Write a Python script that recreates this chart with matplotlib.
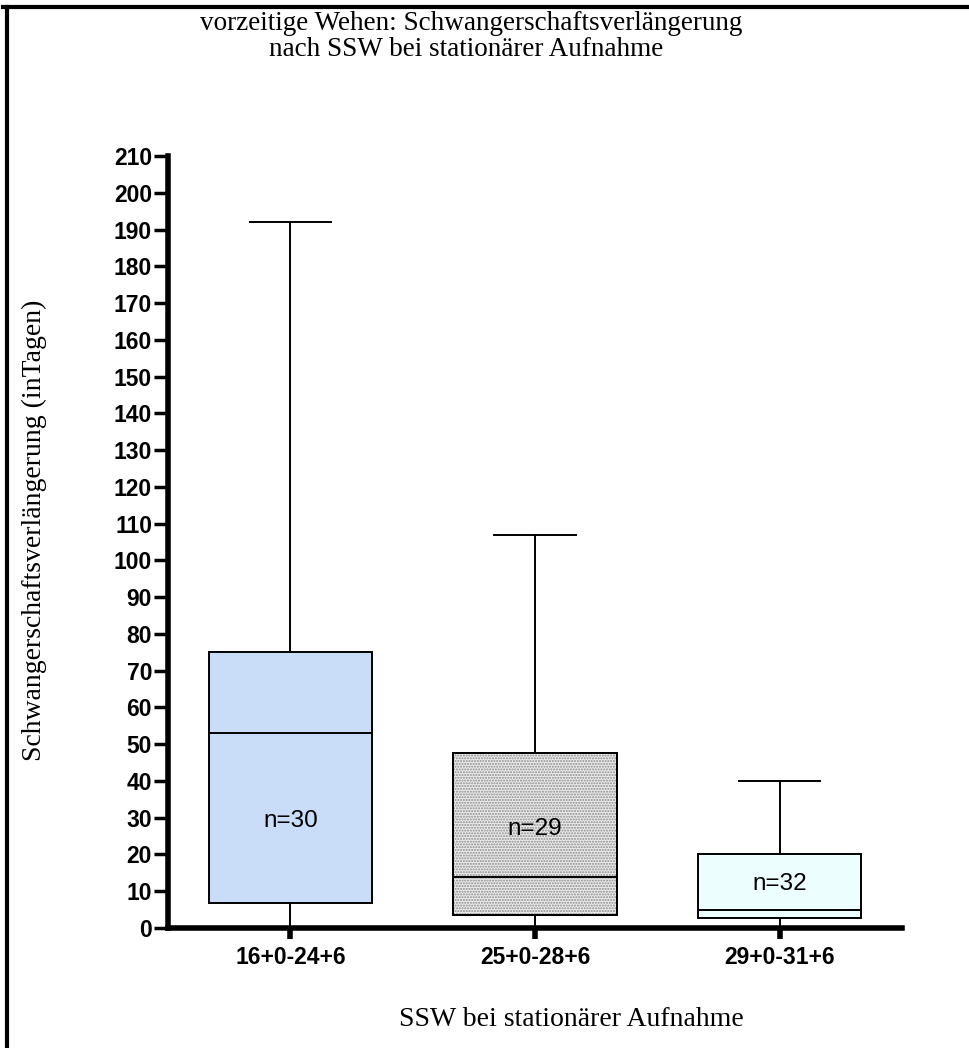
import matplotlib.pyplot as plt
from matplotlib.patches import PathPatch
from matplotlib.lines import Line2D

# Gruppen (SSW bei Aufnahme) und Kennwerte der Boxen, in Tagen
groups = ['16+0-24+6', '25+0-28+6', '29+0-31+6']
n_values = [30, 29, 32]
q1 = [6.7, 3.5, 2.6]
median = [53, 14, 5]
q3 = [75, 47.5, 20]
whisker_low = [0, 0, 0]
whisker_high = [192, 107, 40]
label_y = [29, 27, 12]

box_colors = ['#c9ddf9', '#ececec', '#ecfefe']

serif = 'Liberation Serif'
sans = 'Liberation Sans'

fig = plt.figure(figsize=(9.7, 10.48), dpi=100)
ax = fig.add_axes([0.1732, 0.1145, 0.7567, 0.7366])

stats = []
for i in range(len(groups)):
    stats.append({'label': groups[i], 'q1': q1[i], 'med': median[i], 'q3': q3[i],
                  'whislo': whisker_low[i], 'whishi': whisker_high[i], 'fliers': []})

pos = [1, 2, 3]
bp = ax.bxp(stats, positions=pos, widths=0.667, capwidths=0.333, patch_artist=True,
            showfliers=False,
            boxprops=dict(linewidth=1.4, edgecolor='black'),
            medianprops=dict(color='black', linewidth=1.4),
            whiskerprops=dict(color='black', linewidth=1.4),
            capprops=dict(color='black', linewidth=1.4))

for patch, c in zip(bp['boxes'], box_colors):
    patch.set_facecolor(c)

# fein gepunktetes Muster fuer die mittlere Box
box2 = bp['boxes'][1]
stipple = PathPatch(box2.get_path(), transform=box2.get_transform(),
                    facecolor='none', edgecolor='#8a8a8a', linewidth=0, hatch='......',
                    zorder=box2.get_zorder() + 0.1)
ax.add_patch(stipple)
outline = PathPatch(box2.get_path(), transform=box2.get_transform(),
                    facecolor='none', edgecolor='black', linewidth=1.4,
                    zorder=box2.get_zorder() + 0.2)
ax.add_patch(outline)
bp['medians'][1].set_zorder(outline.get_zorder() + 0.1)

for cap in bp['caps'][0::2]:
    cap.set_visible(False)

for x, n, y in zip(pos, n_values, label_y):
    ax.text(x, y, 'n=' + str(n), ha='center', va='center', fontsize=17.5,
            family=sans, zorder=10)

ax.set_xlim(0.5, 3.5)
ax.set_ylim(0, 210)
ax.set_yticks(range(0, 211, 10))
ax.set_xticks(pos)
ax.set_xticklabels(groups)

for lab in ax.get_yticklabels() + ax.get_xticklabels():
    lab.set_family(sans)
    lab.set_fontweight('bold')
    lab.set_fontsize(16.5)

ax.spines['top'].set_visible(False)
ax.spines['right'].set_visible(False)
ax.spines['left'].set_linewidth(4)
ax.spines['bottom'].set_linewidth(4)
ax.spines['left'].set_capstyle('projecting')
ax.spines['bottom'].set_capstyle('projecting')
ax.tick_params(axis='y', length=10, width=2.5, pad=1.5)
ax.tick_params(axis='x', length=8, width=4, pad=5)

fig.text(0.486, 0.978, 'vorzeitige Wehen: Schwangerschaftsverlängerung',
         ha='center', va='center', fontsize=19.5, family=serif)
fig.text(0.481, 0.953, 'nach SSW bei stationärer Aufnahme',
         ha='center', va='center', fontsize=19.5, family=serif)
fig.text(0.5887, 0.027, 'SSW bei stationärer Aufnahme',
         ha='center', va='center', fontsize=20, family=serif)
fig.text(0.036, 0.494, 'Schwangerschaftsverlängerung (inTagen)', rotation=90,
         ha='center', va='center', fontsize=20, family=serif)

# Rahmen oben und links
fig.add_artist(Line2D([0.003, 1.0], [0.9935, 0.9935], transform=fig.transFigure,
                      color='black', linewidth=3))
fig.add_artist(Line2D([0.0072, 0.0072], [0.0, 0.9935], transform=fig.transFigure,
                      color='black', linewidth=3))

fig.savefig('out.png', dpi=100)
